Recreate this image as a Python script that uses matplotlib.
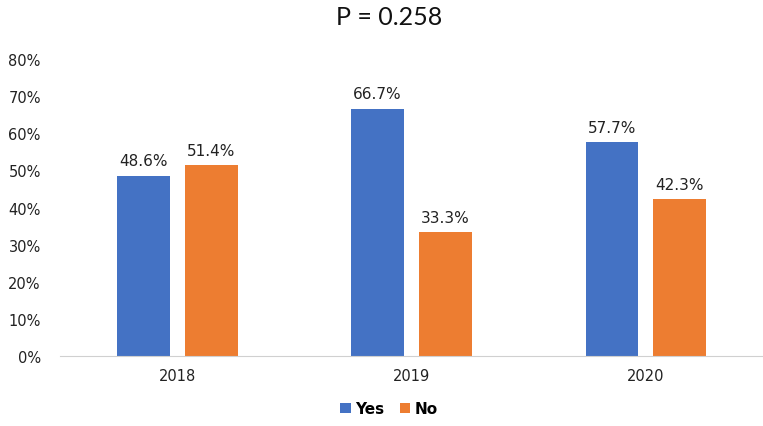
import matplotlib
matplotlib.use('Agg')
import matplotlib.pyplot as plt
import numpy as np

# Chart data
years = ['2018', '2019', '2020']
yes_values = [48.6, 66.7, 57.7]
no_values = [51.4, 33.3, 42.3]
y_ticks = [0, 10, 20, 30, 40, 50, 60, 70, 80]
title = 'P = 0.258'

blue = '#4472C4'
orange = '#ED7D31'

fig = plt.figure(figsize=(7.63, 4.27), dpi=100)
ax = fig.add_axes([0.079, 0.164, 0.921, 0.695])

x = np.arange(len(years))
width = 0.225
offset = 0.145

bars_yes = ax.bar(x - offset, yes_values, width, color=blue, label='Yes')
bars_no = ax.bar(x + offset, no_values, width, color=orange, label='No')

# Data labels above each bar
for bars, values in ((bars_yes, yes_values), (bars_no, no_values)):
    for b, v in zip(bars, values):
        ax.text(b.get_x() + b.get_width() / 2, v + 2.0, f'{v:.1f}%',
                ha='center', va='bottom', fontsize=11, color='#222222')

ax.set_xlim(-0.5, len(years) - 0.5)
ax.set_ylim(0, 80)
ax.set_yticks(y_ticks)
ax.set_yticklabels([f'{t}%' for t in y_ticks], fontsize=10.5, color='#222222')
ax.set_xticks(x)
ax.set_xticklabels(years, fontsize=10.5, color='#222222')

for side in ('top', 'right', 'left'):
    ax.spines[side].set_visible(False)
ax.spines['bottom'].set_color('#d0d0d0')
ax.tick_params(axis='both', length=0)
ax.tick_params(axis='y', pad=14)
ax.tick_params(axis='x', pad=9)

fig.text(0.51, 0.958, title, ha='center', va='center', fontsize=18,
         family='Lato', color='#111111')

fig.legend(loc='center', bbox_to_anchor=(0.51, 0.04), ncol=2, frameon=False,
           prop={'size': 11, 'weight': 'bold'}, handlelength=0.7,
           handleheight=0.7, handletextpad=0.3, columnspacing=1.0)

fig.savefig('out.png', dpi=100)
